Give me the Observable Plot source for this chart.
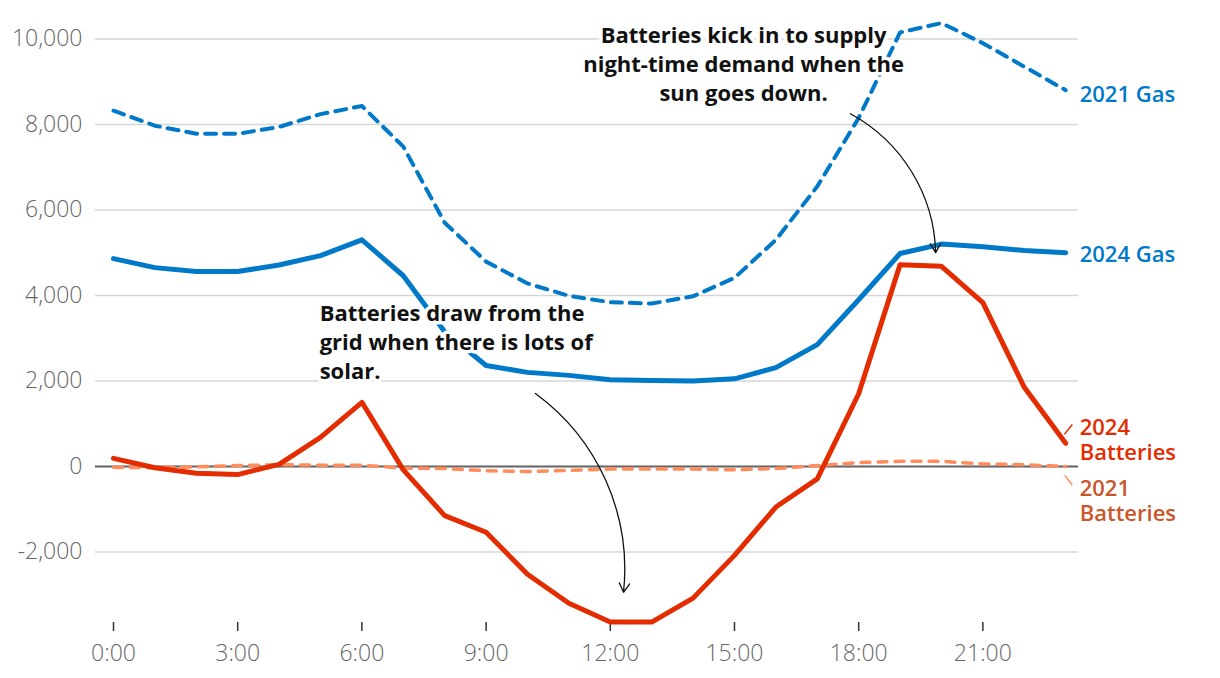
<!DOCTYPE html>
<html>
<head>
<meta charset="utf-8">
<script src="https://cdn.jsdelivr.net/npm/d3@7"></script>
<script src="https://cdn.jsdelivr.net/npm/@observablehq/plot@0.6"></script>
<style>
  html, body { margin: 0; padding: 0; background: #fff; }
  #chart { width: 1220px; height: 678px; }
</style>
</head>
<body>
<div id="chart"></div>
<script>
// Hours of the day (0 = midnight)
const hours = [0,1,2,3,4,5,6,7,8,9,10,11,12,13,14,15,16,17,18,19,20,21,22,23];

// Series values (MW)
const gas2021 = [8320,7970,7780,7780,7940,8240,8430,7480,5700,4790,4280,3990,3840,3810,3980,4410,5300,6550,8150,10150,10370,9900,9350,8800];
const gas2024 = [4860,4650,4560,4560,4710,4930,5300,4460,3150,2360,2200,2130,2030,2010,2000,2050,2310,2850,3900,4980,5200,5140,5050,5000];
const bat2021 = [-20,-30,-10,20,40,30,30,-40,-50,-100,-120,-90,-60,-60,-60,-80,-50,20,90,120,120,60,40,0];
const bat2024 = [190,-30,-160,-190,50,680,1500,-80,-1150,-1540,-2520,-3200,-3640,-3640,-3080,-2080,-950,-290,1700,4720,4680,3830,1850,540];

// Tick values
const xTicks = [0,3,6,9,12,15,18,21];
const yTicks = [-2000,0,2000,4000,6000,8000,10000];

// Series labels
const seriesNames = ["2021 Gas","2024 Gas","2024\nBatteries","2021\nBatteries"];
const seriesLabelY = [8715,4977,640,-790];
const seriesLabelColors = ["#0079c9","#0079c9","#e32c00","#c9572b"];

// Annotations (in data units)
const noteTexts = [
  "Batteries kick in to supply\nnight-time demand when the\nsun goes down.",
  "Batteries draw from the\ngrid when there is lots of\nsolar."
];
const noteX = [15.22, 4.98];
const noteY = [9440, 2945];

const arrowX1 = [17.80, 10.19];
const arrowY1 = [8250, 1706];
const arrowX2 = [19.86, 12.32];
const arrowY2 = [5000, -2944];

// Leader ticks next to battery labels
const leadX1 = [22.97, 22.98];
const leadY1 = [750, -210];
const leadX2 = [23.16, 23.16];
const leadY2 = [980, -440];
const leadColors = ["#e32c00","#ff8c5a"];

const toRows = (vals) => hours.map((h, i) => ({h, v: vals[i]}));

const BLUE = "#0079c9", RED = "#e32c00", ORANGE = "#ff8c5a";
const noteStyle = {lineAnchor: "middle", lineHeight: 1.32, fontSize: 22, fontWeight: 700,
  fontFamily: "'Open Sans', sans-serif", fill: "#111", stroke: "#fff", strokeWidth: 7};

const chart = Plot.plot({
  width: 1220,
  height: 678,
  marginLeft: 95,
  marginRight: 142,
  marginTop: 17,
  marginBottom: 56,
  style: {fontFamily: "'Open Sans', sans-serif", fontSize: "23px", background: "#fff", overflow: "visible"},
  x: {domain: [-0.435, 23.31]},
  y: {domain: [-3650, 10500]},
  marks: [
    Plot.gridY(yTicks, {stroke: "#d6d6d6", strokeOpacity: 1, strokeWidth: 1.5}),
    Plot.axisY(yTicks, {tickSize: 0, tickPadding: 13, fill: "#666", fontWeight: 300,
      tickFormat: d => d.toLocaleString("en-US"), label: null}),
    Plot.axisX(xTicks, {tickSize: 9, tickPadding: 13, stroke: "#333", strokeWidth: 1.5, fill: "#666", fontWeight: 300,
      tickFormat: d => d + ":00", label: null}),
    Plot.ruleY([0], {stroke: "#666", strokeWidth: 2}),
    Plot.line(toRows(gas2021), {x: "h", y: "v", stroke: BLUE, strokeWidth: 4, strokeDasharray: "11,8"}),
    Plot.line(toRows(gas2024), {x: "h", y: "v", stroke: BLUE, strokeWidth: 5}),
    Plot.line(toRows(bat2021), {x: "h", y: "v", stroke: ORANGE, strokeWidth: 3.5, strokeDasharray: "9,8"}),
    Plot.line(toRows(bat2024), {x: "h", y: "v", stroke: RED, strokeWidth: 5}),
    Plot.text([noteTexts[0]], {x: noteX[0], y: noteY[0], text: d => d, textAnchor: "middle", ...noteStyle}),
    Plot.text([noteTexts[1]], {x: noteX[1], y: noteY[1], text: d => d, textAnchor: "start", ...noteStyle}),
    Plot.arrow(noteTexts, {x1: (d, i) => arrowX1[i], y1: (d, i) => arrowY1[i],
      x2: (d, i) => arrowX2[i], y2: (d, i) => arrowY2[i], bend: 30, stroke: "#111",
      strokeWidth: 1.3, headLength: 12}),
    Plot.link(leadColors, {x1: (d, i) => leadX1[i], y1: (d, i) => leadY1[i],
      x2: (d, i) => leadX2[i], y2: (d, i) => leadY2[i], stroke: d => d, strokeWidth: 1.5}),
    Plot.text(seriesNames, {x: 23, y: (d, i) => seriesLabelY[i], text: d => d, dx: 14,
      textAnchor: "start", lineAnchor: "middle", lineHeight: 1.14, fontSize: 22, fontWeight: 600,
      fill: (d, i) => seriesLabelColors[i]})
  ]
});
document.getElementById("chart").appendChild(chart);
</script>
</body>
</html>
